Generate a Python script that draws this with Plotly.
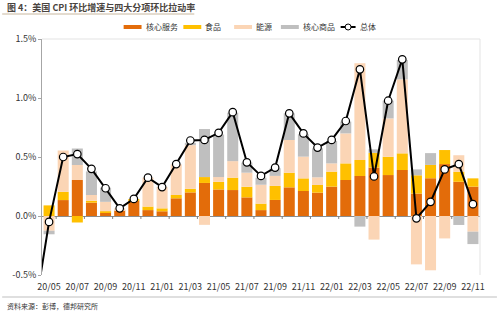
import plotly.graph_objects as go

months = ["20/05","20/06","20/07","20/08","20/09","20/10","20/11","20/12",
          "21/01","21/02","21/03","21/04","21/05","21/06","21/07","21/08","21/09","21/10","21/11","21/12",
          "22/01","22/02","22/03","22/04","22/05","22/06","22/07","22/08","22/09","22/10","22/11"]

core_services = [0.00,0.135,0.305,0.113,0.03,0.05,0.13,0.05,
                 0.04,0.15,0.20,0.28,0.225,0.22,0.158,0.05,0.136,0.243,0.212,0.198,
                 0.249,0.305,0.339,0.41,0.347,0.39,0.19,0.32,0.44,0.29,0.249]
food = [0.09,0.07,-0.055,0.017,0.01,0.0,0.01,0.03,
        0.025,0.028,0.03,0.05,0.065,0.105,0.09,0.055,0.119,0.124,0.107,0.065,
        0.127,0.141,0.136,0.125,0.155,0.141,0.155,0.113,0.119,0.085,0.07]
energy = [-0.125,0.35,0.127,0.048,0.08,0.015,0.0,0.245,
          0.18,0.26,0.37,-0.075,0.04,0.14,0.119,0.16,0.085,0.277,0.184,0.065,
          0.07,0.254,0.82,-0.20,0.325,0.627,-0.41,-0.46,-0.19,0.14,-0.133]
core_goods = [-0.03,0.0,0.14,0.20,0.12,0.0,0.0,0.0,
              0.0,0.0,0.02,0.407,0.36,0.41,0.085,0.06,0.065,0.226,0.19,0.246,
              0.19,0.10,-0.09,0.03,0.15,0.164,0.05,0.10,0.0,-0.076,-0.105]

# headline series includes the prior month (20/04), which runs off the left edge
line_months = ["20/04"] + months
total = [-0.8,
         -0.05,0.50,0.525,0.40,0.235,0.065,0.145,0.325,
         0.245,0.44,0.64,0.645,0.705,0.88,0.455,0.34,0.41,0.87,0.70,0.58,
         0.645,0.805,1.243,0.335,0.977,1.328,-0.02,0.12,0.395,0.44,0.10]

y_ticks = [-0.5, 0.0, 0.5, 1.0, 1.5]
y_ticktext = ["-0.5%", "0.0%", "0.5%", "1.0%", "1.5%"]

series_names = ["核心服务", "食品", "能源", "核心商品"]
series_vals = [core_services, food, energy, core_goods]
series_colors = ["#E36C0A", "#FFC000", "#FBD5B5", "#BFBFBF"]
line_name = "总体"

x_bar = list(range(len(months)))
x_line = [i - 1 for i in range(len(line_months))]

FONT = "Noto Sans CJK SC, DejaVu Sans, sans-serif"

# plot area in pixels: left 40, right 480, top 39, bottom 275
PL, PR, PT, PB = 40, 480, 39, 275
def px(xp):
    return (xp - PL) / (PR - PL)
def py(yp):
    return (PB - yp) / (PB - PT)

fig = go.Figure()
for name, vals, col in zip(series_names, series_vals, series_colors):
    fig.add_trace(go.Bar(x=x_bar, y=vals, name=name, marker=dict(color=col, line=dict(width=0)),
                         width=0.78, showlegend=False))
fig.add_trace(go.Scatter(x=x_line, y=total, name=line_name, mode="lines+markers",
                         line=dict(color="#000000", width=2),
                         marker=dict(symbol="circle", size=7.5, color="white",
                                     line=dict(color="#000000", width=1.2)),
                         cliponaxis=True, showlegend=False))

shapes = []
annotations = []
# tick marks on the zero line at category boundaries
for b in [i + 0.5 for i in range(0, len(months) - 1, 2)]:
    shapes.append(dict(type="line", xref="x", yref="y", x0=b, x1=b, y0=0, y1=-0.025,
                       line=dict(color="#7F7F7F", width=1)))
# plot frame (top & right)
shapes.append(dict(type="line", xref="paper", yref="paper", x0=0, x1=1, y0=1, y1=1,
                   line=dict(color="#E3E3E3", width=1)))
shapes.append(dict(type="line", xref="paper", yref="paper", x0=1, x1=1, y0=0, y1=1,
                   line=dict(color="#E3E3E3", width=1)))
# footer separator and title underline
shapes.append(dict(type="line", xref="paper", yref="paper", x0=px(0), x1=px(497),
                   y0=py(297), y1=py(297), line=dict(color="#BFBFBF", width=1)))
shapes.append(dict(type="line", xref="paper", yref="paper", x0=px(0), x1=px(193),
                   y0=py(14), y1=py(14), line=dict(color="#C8B79E", width=1)))

# legend drawn as in the source: short thick line samples + labels
LY = 27
legend_x = [122, 182, 233, 280]
for name, col, x0 in zip(series_names, series_colors, legend_x):
    shapes.append(dict(type="line", xref="paper", yref="paper", x0=px(x0), x1=px(x0 + 18),
                       y0=py(LY), y1=py(LY), line=dict(color=col, width=4)))
    annotations.append(dict(text=name, xref="paper", yref="paper", x=px(x0 + 20), y=py(LY),
                            xanchor="left", yanchor="middle", showarrow=False,
                            font=dict(size=8, color="#333333", family=FONT)))
shapes.append(dict(type="line", xref="paper", yref="paper", x0=px(340), x1=px(355),
                   y0=py(LY), y1=py(LY), line=dict(color="#000000", width=2)))
shapes.append(dict(type="circle", xref="paper", yref="paper", x0=px(344.5), x1=px(350.5),
                   y0=py(LY + 3), y1=py(LY - 3), fillcolor="white",
                   line=dict(color="#000000", width=1)))
annotations.append(dict(text=line_name, xref="paper", yref="paper", x=px(357), y=py(LY),
                        xanchor="left", yanchor="middle", showarrow=False,
                        font=dict(size=8, color="#333333", family=FONT)))

annotations.append(dict(text="<b>图 4：美国 CPI 环比增速与四大分项环比拉动率</b>", xref="paper", yref="paper",
                        x=px(3), y=py(8), xanchor="left", yanchor="middle", showarrow=False,
                        font=dict(size=9, color="#4A4440", family=FONT)))
annotations.append(dict(text="资料来源：彭博，德邦研究所", xref="paper", yref="paper",
                        x=px(3), y=py(306), xanchor="left", yanchor="middle", showarrow=False,
                        font=dict(size=7, color="#333333", family=FONT)))

fig.update_layout(
    width=500, height=313,
    margin=dict(l=PL, r=500 - PR, t=PT, b=313 - PB),
    paper_bgcolor="white", plot_bgcolor="white",
    barmode="relative",
    font=dict(family=FONT, size=9, color="#333333"),
    shapes=shapes,
    annotations=annotations,
    showlegend=False,
    xaxis=dict(range=[-0.5, len(months) - 0.5], tickmode="array",
               tickvals=x_bar[::2], ticktext=months[::2],
               showgrid=False, zeroline=False, showline=False, ticks="outside",
               ticklen=3, tickcolor="rgba(0,0,0,0)",
               tickfont=dict(size=9, color="#333333"), fixedrange=True),
    yaxis=dict(range=[-0.5, 1.5], tickmode="array", tickvals=y_ticks, ticktext=y_ticktext,
               showgrid=False, zeroline=True, zerolinecolor="#8C8C8C", zerolinewidth=1,
               showline=True, linecolor="#A6A6A6", linewidth=1,
               ticks="outside", ticklen=3, tickcolor="#A6A6A6",
               tickfont=dict(size=9, color="#333333"), fixedrange=True),
)

fig.write_html("out.html")
